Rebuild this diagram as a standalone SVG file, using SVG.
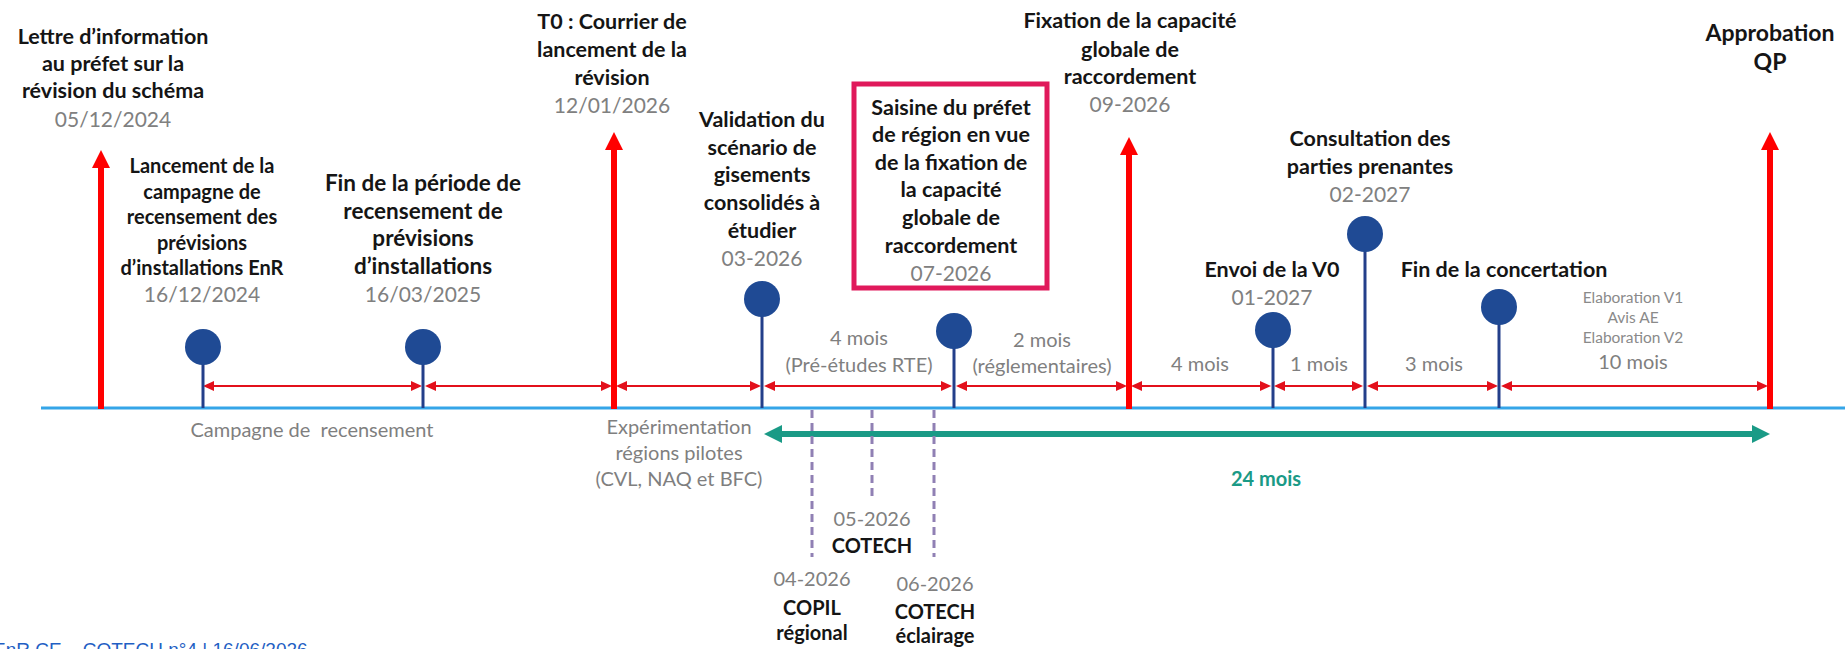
<svg xmlns="http://www.w3.org/2000/svg" width="1845" height="649" viewBox="0 0 1845 649">
<style>
  text { font-family: Lato, "Open Sans", sans-serif; text-anchor: middle; }
  .b { font-weight: bold; font-size: 21.5px; fill: #151515; }
  .bs { font-weight: bold; font-size: 20px; fill: #151515; }
  .d { font-size: 21px; fill: #808080; }
  .m { font-size: 20px; fill: #7f7f7f; }
  .s { font-size: 15.5px; fill: #8a8a8a; }
  .g { font-weight: bold; font-size: 20px; fill: #1a9a86; }
  .foot { font-family: "Liberation Sans", Arial, sans-serif; font-size: 19px; fill: #1f5fc4; text-anchor: start; }
  .vred { stroke: #ff0000; stroke-width: 6; fill: none; }
  .dur { stroke: #e3101b; stroke-width: 2; fill: none; }
  .stem { stroke: #233f8a; stroke-width: 3; }
  .pin { fill: #1f4a94; }
  .dash { stroke: #9080b4; stroke-width: 3; stroke-dasharray: 8 5; fill: none; }
</style>
<defs>
  <marker id="bigHead" markerUnits="userSpaceOnUse" markerWidth="18" markerHeight="18" refX="6" refY="9" orient="auto">
    <path d="M0,0 L18,9 L0,18 z" fill="#ff0000"/>
  </marker>
  <marker id="smallHead" markerUnits="userSpaceOnUse" markerWidth="11" markerHeight="10" refX="9" refY="5" orient="auto-start-reverse">
    <path d="M0,0 L11,5 L0,10 z" fill="#e3101b"/>
  </marker>
  <marker id="greenHead" markerUnits="userSpaceOnUse" markerWidth="18" markerHeight="18" refX="4" refY="9" orient="auto-start-reverse">
    <path d="M0,0 L18,9 L0,18 z" fill="#1a9a86"/>
  </marker>
</defs>
<rect x="0" y="0" width="1845" height="649" fill="#ffffff"/>

<g id="timeline">
  <line x1="41" y1="408" x2="1845" y2="408" stroke="#35a5e8" stroke-width="3"/>
</g>

<g id="connectors">
  <!-- vertical red milestone arrows -->
  <line class="vred" x1="101" y1="409" x2="101" y2="162" marker-end="url(#bigHead)"/>
  <line class="vred" x1="614" y1="409" x2="614" y2="144" marker-end="url(#bigHead)"/>
  <line class="vred" x1="1129" y1="409" x2="1129" y2="149" marker-end="url(#bigHead)"/>
  <line class="vred" x1="1770" y1="409" x2="1770" y2="144" marker-end="url(#bigHead)"/>
  <!-- duration arrows -->
  <line class="dur" x1="205" y1="386" x2="420" y2="386" marker-start="url(#smallHead)" marker-end="url(#smallHead)"/>
  <line class="dur" x1="427" y1="386" x2="610" y2="386" marker-start="url(#smallHead)" marker-end="url(#smallHead)"/>
  <line class="dur" x1="618" y1="386" x2="759" y2="386" marker-start="url(#smallHead)" marker-end="url(#smallHead)"/>
  <line class="dur" x1="766" y1="386" x2="950" y2="386" marker-start="url(#smallHead)" marker-end="url(#smallHead)"/>
  <line class="dur" x1="958" y1="386" x2="1125" y2="386" marker-start="url(#smallHead)" marker-end="url(#smallHead)"/>
  <line class="dur" x1="1133" y1="386" x2="1269" y2="386" marker-start="url(#smallHead)" marker-end="url(#smallHead)"/>
  <line class="dur" x1="1276" y1="386" x2="1361" y2="386" marker-start="url(#smallHead)" marker-end="url(#smallHead)"/>
  <line class="dur" x1="1369" y1="386" x2="1496" y2="386" marker-start="url(#smallHead)" marker-end="url(#smallHead)"/>
  <line class="dur" x1="1503" y1="386" x2="1766" y2="386" marker-start="url(#smallHead)" marker-end="url(#smallHead)"/>
  <!-- 24 months arrow -->
  <line x1="778" y1="434" x2="1756" y2="434" stroke="#1a9a86" stroke-width="6" marker-start="url(#greenHead)" marker-end="url(#greenHead)"/>
  <!-- dashed committee markers -->
  <line class="dash" x1="812" y1="410" x2="812" y2="557"/>
  <line class="dash" x1="872" y1="410" x2="872" y2="500"/>
  <line class="dash" x1="934" y1="410" x2="934" y2="557"/>
</g>

<g id="lettre">
  <text class="b" x="113" y="44">Lettre d’information</text>
  <text class="b" x="113" y="71">au préfet sur la</text>
  <text class="b" x="113" y="98">révision du schéma</text>
  <text class="d" x="113" y="127">05/12/2024</text>
</g>

<g id="lancement">
  <line class="stem" x1="203" y1="347" x2="203" y2="408"/>
  <circle class="pin" cx="203" cy="347" r="18"/>
  <text class="bs" x="202" y="173">Lancement de la</text>
  <text class="bs" x="202" y="199">campagne de</text>
  <text class="bs" x="202" y="224">recensement des</text>
  <text class="bs" x="202" y="250">prévisions</text>
  <text class="bs" x="202" y="275">d’installations EnR</text>
  <text class="d" x="202" y="302">16/12/2024</text>
</g>

<g id="fin-periode">
  <line class="stem" x1="423" y1="347" x2="423" y2="408"/>
  <circle class="pin" cx="423" cy="347" r="18"/>
  <text class="b" x="423" y="191" style="font-size:22.5px">Fin de la période de</text>
  <text class="b" x="423" y="219" style="font-size:22.5px">recensement de</text>
  <text class="b" x="423" y="246" style="font-size:22.5px">prévisions</text>
  <text class="b" x="423" y="274" style="font-size:22.5px">d’installations</text>
  <text class="d" x="423" y="302">16/03/2025</text>
</g>

<g id="t0">
  <text class="b" x="612" y="29">T0 : Courrier de</text>
  <text class="b" x="612" y="57">lancement de la</text>
  <text class="b" x="612" y="85">révision</text>
  <text class="d" x="612" y="113">12/01/2026</text>
</g>

<g id="validation">
  <line class="stem" x1="762" y1="299" x2="762" y2="408"/>
  <circle class="pin" cx="762" cy="299" r="18"/>
  <text class="b" x="762" y="127">Validation du</text>
  <text class="b" x="762" y="155">scénario de</text>
  <text class="b" x="762" y="182">gisements</text>
  <text class="b" x="762" y="210">consolidés à</text>
  <text class="b" x="762" y="238">étudier</text>
  <text class="d" x="762" y="266">03-2026</text>
</g>

<g id="saisine">
  <rect x="854" y="84" width="193" height="204" fill="none" stroke="#e0195b" stroke-width="5"/>
  <line class="stem" x1="954" y1="331" x2="954" y2="408"/>
  <circle class="pin" cx="954" cy="331" r="18"/>
  <text class="b" x="951" y="115">Saisine du préfet</text>
  <text class="b" x="951" y="142">de région en vue</text>
  <text class="b" x="951" y="170">de la fixation de</text>
  <text class="b" x="951" y="197">la capacité</text>
  <text class="b" x="951" y="225">globale de</text>
  <text class="b" x="951" y="253">raccordement</text>
  <text class="d" x="951" y="281">07-2026</text>
</g>

<g id="fixation">
  <text class="b" x="1130" y="28">Fixation de la capacité</text>
  <text class="b" x="1130" y="57">globale de</text>
  <text class="b" x="1130" y="84">raccordement</text>
  <text class="d" x="1130" y="112">09-2026</text>
</g>

<g id="envoi-v0">
  <line class="stem" x1="1273" y1="330" x2="1273" y2="408"/>
  <circle class="pin" cx="1273" cy="330" r="18"/>
  <text class="b" x="1272" y="277">Envoi de la V0</text>
  <text class="d" x="1272" y="305">01-2027</text>
</g>

<g id="consultation">
  <line class="stem" x1="1365" y1="234" x2="1365" y2="408"/>
  <circle class="pin" cx="1365" cy="234" r="18"/>
  <text class="b" x="1370" y="146">Consultation des</text>
  <text class="b" x="1370" y="174">parties prenantes</text>
  <text class="d" x="1370" y="202">02-2027</text>
</g>

<g id="fin-concertation">
  <line class="stem" x1="1499" y1="307" x2="1499" y2="408"/>
  <circle class="pin" cx="1499" cy="307" r="18"/>
  <text class="b" x="1504" y="277">Fin de la concertation</text>
</g>

<g id="approbation">
  <text class="b" x="1770" y="41" style="font-size:23px">Approbation</text>
  <text class="b" x="1770" y="70" style="font-size:23px">QP</text>
</g>

<g id="durations">
  <text class="m" x="859" y="345">4 mois</text>
  <text class="m" x="859" y="372">(Pré-études RTE)</text>
  <text class="m" x="1042" y="347">2 mois</text>
  <text class="m" x="1042" y="373">(réglementaires)</text>
  <text class="m" x="1200" y="371">4 mois</text>
  <text class="m" x="1319" y="371">1 mois</text>
  <text class="m" x="1434" y="371">3 mois</text>
  <text class="s" x="1633" y="303">Elaboration V1</text>
  <text class="s" x="1633" y="323">Avis AE</text>
  <text class="s" x="1633" y="343">Elaboration V2</text>
  <text class="m" x="1633" y="369">10 mois</text>
</g>

<g id="phases">
  <text class="m" x="312" y="437" xml:space="preserve">Campagne de  recensement</text>
  <text class="m" x="679" y="434">Expérimentation</text>
  <text class="m" x="679" y="460">régions pilotes</text>
  <text class="m" x="679" y="486">(CVL, NAQ et BFC)</text>
  <text class="g" x="1266" y="486">24 mois</text>
</g>

<g id="committees">
  <text class="d" x="872" y="526" style="font-size:20px">05-2026</text>
  <text class="bs" x="872" y="553">COTECH</text>
  <text class="d" x="812" y="586" style="font-size:20px">04-2026</text>
  <text class="bs" x="812" y="615">COPIL</text>
  <text class="bs" x="812" y="640">régional</text>
  <text class="d" x="935" y="591" style="font-size:20px">06-2026</text>
  <text class="bs" x="935" y="619">COTECH</text>
  <text class="bs" x="935" y="643">éclairage</text>
</g>

<g id="footer">
  <text class="foot" x="-7" y="656">EnR CE – COTECH n°4 | 16/06/2026</text>
</g>
</svg>
